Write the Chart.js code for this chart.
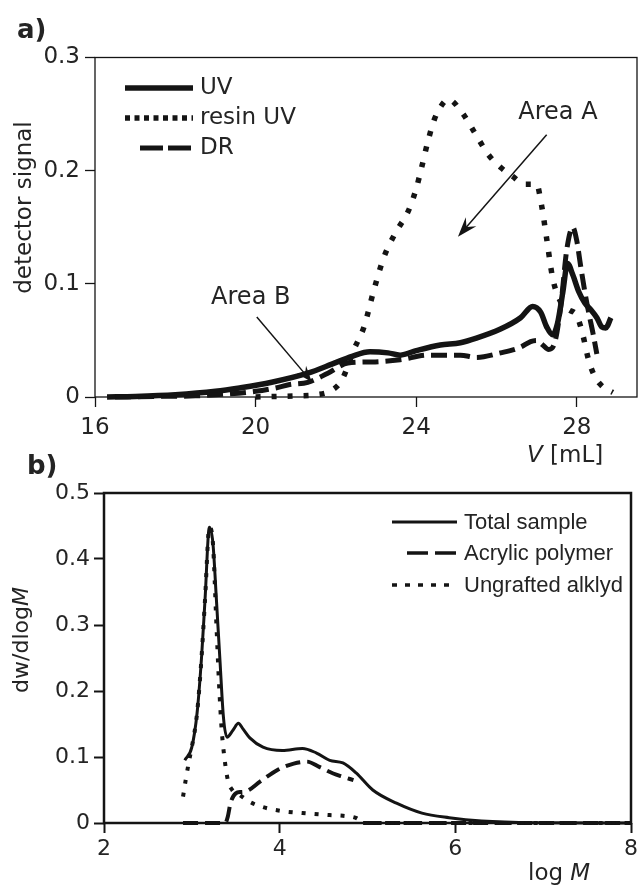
<!DOCTYPE html>
<html>
<head>
<meta charset="utf-8">
<script src="https://cdn.jsdelivr.net/npm/chart.js@4.4.0/dist/chart.umd.min.js"></script>
<style>
  html, body { margin: 0; padding: 0; background: #fff; }
  body { width: 638px; height: 887px; position: relative; overflow: hidden; }
  canvas { position: absolute; left: 0; }
  #chartA { top: 0; }
  #chartB { top: 440px; }
</style>
</head>
<body>
<canvas id="chartA" width="638" height="470"></canvas>
<canvas id="chartB" width="638" height="447"></canvas>
<script>
// ---- a) detector signal vs elution volume V [mL]
const uvV = [16.3, 17, 18, 19, 19.6, 20.4, 21.3, 21.9, 22.4, 22.85, 23.3, 23.6, 24.0, 24.6, 25.1, 25.5, 26.1, 26.6, 26.9, 27.1, 27.25, 27.4, 27.52, 27.65, 27.77, 27.9, 28.05, 28.2, 28.35, 28.5, 28.62, 28.72, 28.85];
const uvSig = [0, 0.0005, 0.002, 0.005, 0.008, 0.013, 0.021, 0.029, 0.036, 0.040, 0.039, 0.037, 0.041, 0.046, 0.048, 0.052, 0.060, 0.070, 0.080, 0.075, 0.062, 0.055, 0.065, 0.092, 0.118, 0.108, 0.093, 0.083, 0.077, 0.070, 0.062, 0.061, 0.070];

const resinV = [20.0, 21.0, 21.5, 21.9, 22.15, 22.45, 22.7, 22.95, 23.2, 23.5, 23.8, 24.0, 24.15, 24.3, 24.45, 24.6, 24.8, 25.15, 25.45, 25.8, 26.1, 26.4, 26.7, 27.0, 27.12, 27.25, 27.4, 27.6, 27.8, 28.0, 28.15, 28.3, 28.45, 28.65, 28.9];
const resinSig = [0, 0.001, 0.002, 0.006, 0.015, 0.042, 0.062, 0.095, 0.124, 0.146, 0.164, 0.184, 0.205, 0.227, 0.245, 0.256, 0.263, 0.251, 0.234, 0.214, 0.203, 0.195, 0.188, 0.188, 0.170, 0.140, 0.105, 0.084, 0.077, 0.072, 0.055, 0.032, 0.018, 0.009, 0.004];

const drV = [16.5, 17.5, 18.5, 19.0, 20.0, 20.5, 20.85, 21.3, 21.8, 22.3, 22.9, 23.6, 24.3, 25.1, 25.5, 26.1, 26.6, 26.85, 27.0, 27.15, 27.3, 27.45, 27.6, 27.75, 27.9, 28.0, 28.1, 28.2, 28.3, 28.4, 28.5];
const drSig = [0, 0.0005, 0.001, 0.002, 0.005, 0.008, 0.011, 0.013, 0.021, 0.030, 0.031, 0.033, 0.037, 0.037, 0.035, 0.039, 0.044, 0.049, 0.050, 0.046, 0.042, 0.048, 0.080, 0.130, 0.150, 0.138, 0.115, 0.093, 0.074, 0.057, 0.038];

const xTicksA = [16, 20, 24, 28];
const yTicksA = [0, 0.1, 0.2, 0.3];

// ---- b) dw/dlogM vs log M
const totalLogM = [2.92, 3.0, 3.06, 3.11, 3.15, 3.2, 3.24, 3.28, 3.32, 3.36, 3.4, 3.47, 3.53, 3.58, 3.66, 3.81, 4.03, 4.26, 4.42, 4.57, 4.72, 4.87, 5.06, 5.33, 5.62, 5.93, 6.3, 6.9, 8.0];
const totalW = [0.095, 0.115, 0.167, 0.25, 0.338, 0.448, 0.424, 0.338, 0.247, 0.16, 0.13, 0.141, 0.151, 0.143, 0.129, 0.115, 0.11, 0.113, 0.106, 0.095, 0.091, 0.076, 0.05, 0.03, 0.015, 0.008, 0.003, 0.0005, 0];

const acrylLogM = [2.9, 3.38, 3.41, 3.44, 3.5, 3.56, 3.62, 3.78, 3.97, 4.16, 4.31, 4.45, 4.61, 4.72, 4.84, 4.9, 4.95, 8.0];
const acrylW = [0, 0, 0.01, 0.03, 0.045, 0.047, 0.048, 0.063, 0.08, 0.09, 0.093, 0.085, 0.075, 0.07, 0.065, null, 0, 0];

const alkydLogM = [2.9, 2.93, 2.97, 3.0, 3.06, 3.11, 3.15, 3.2, 3.24, 3.28, 3.31, 3.34, 3.37, 3.41, 3.46, 3.55, 3.66, 3.81, 4.03, 4.26, 4.57, 4.72, 4.88, 4.95, 8.0];
const alkydW = [0.04, 0.065, 0.095, 0.115, 0.167, 0.25, 0.338, 0.448, 0.424, 0.30, 0.21, 0.141, 0.10, 0.065, 0.05, 0.042, 0.032, 0.024, 0.018, 0.015, 0.012, 0.011, 0.007, 0, 0];

const xTicksB = [2, 4, 6, 8];
const yTicksB = [0, 0.1, 0.2, 0.3, 0.4, 0.5];

const INK = "#141414";
const TXT = "#242424";
const SANS = "'DejaVu Sans', sans-serif";
const ARIAL = "'Liberation Sans', Arial, sans-serif";

const pts = (xs, ys) => xs.map((x, i) => ({ x, y: ys[i] }));
const fmt = (v) => (v === 0 ? "0" : String(v));

function line(data, width, dash) {
  return {
    data,
    borderColor: INK,
    borderWidth: width,
    borderDash: dash,
    borderCapStyle: "butt",
    pointRadius: 0,
    fill: false,
    clip: 8,
    cubicInterpolationMode: "monotone",
  };
}

function axis(opts) {
  const horiz = opts.pos === "x";
  return {
    type: "linear",
    min: opts.min,
    max: opts.max,
    afterBuildTicks: (s) => {
      s.ticks = opts.ticks.map((v) => ({ value: v }));
    },
    afterFit: (s) => {
      if (horiz) s.height = opts.size;
      else s.width = opts.size;
      s.paddingLeft = s.paddingRight = s.paddingTop = s.paddingBottom = 0;
    },
    grid: {
      display: true,
      drawOnChartArea: false,
      drawTicks: true,
      tickLength: 10,
      tickColor: INK,
      tickWidth: opts.tickWidth,
    },
    border: { display: false },
    ticks: {
      color: TXT,
      font: { family: SANS, size: opts.font },
      padding: opts.pad,
      maxRotation: 0,
      autoSkip: false,
      callback: fmt,
    },
  };
}

function runs(ctx, parts, x, y, align) {
  let w = 0;
  parts.forEach(([t, f]) => {
    ctx.font = f;
    w += ctx.measureText(t).width;
  });
  let cx = align === "center" ? x - w / 2 : align === "right" ? x - w : x;
  ctx.textAlign = "left";
  parts.forEach(([t, f]) => {
    ctx.font = f;
    ctx.fillText(t, cx, y);
    cx += ctx.measureText(t).width;
  });
}

function arrow(ctx, x1, y1, x2, y2, len, half) {
  const ang = Math.atan2(y2 - y1, x2 - x1);
  ctx.beginPath();
  ctx.moveTo(x1, y1);
  ctx.lineTo(x2 - Math.cos(ang) * len * 0.6, y2 - Math.sin(ang) * len * 0.6);
  ctx.stroke();
  const bx = x2 - Math.cos(ang) * len, by = y2 - Math.sin(ang) * len;
  const nx = -Math.sin(ang) * half, ny = Math.cos(ang) * half;
  const mx = x2 - Math.cos(ang) * len * 0.65, my = y2 - Math.sin(ang) * len * 0.65;
  ctx.beginPath();
  ctx.moveTo(x2, y2);
  ctx.lineTo(bx + nx, by + ny);
  ctx.lineTo(mx, my);
  ctx.lineTo(bx - nx, by - ny);
  ctx.closePath();
  ctx.fill();
}

function legendRow(ctx, x1, x2, y, width, dash) {
  ctx.save();
  ctx.lineWidth = width;
  ctx.lineCap = "butt";
  ctx.setLineDash(dash);
  ctx.beginPath();
  ctx.moveTo(x1, y);
  ctx.lineTo(x2, y);
  ctx.stroke();
  ctx.restore();
}

// frame under the curves, texts and legend on top
function decor(frame, draw) {
  return {
    id: "decor",
    beforeDatasetsDraw(chart) {
      const { ctx, chartArea: a } = chart;
      ctx.save();
      ctx.strokeStyle = INK;
      ctx.lineWidth = frame;
      ctx.strokeRect(a.left, a.top, a.right - a.left, a.bottom - a.top);
      ctx.restore();
    },
    afterDatasetsDraw(chart) {
      const { ctx, chartArea: a, scales } = chart;
      ctx.save();
      ctx.fillStyle = TXT;
      ctx.strokeStyle = INK;
      draw(ctx, a, scales.x, scales.y);
      ctx.restore();
    },
  };
}

function drawA(ctx, a, x, y) {
  ctx.textBaseline = "alphabetic";
  runs(ctx, [["a)", "bold 26px " + SANS]], 17, 38, "left");

  ctx.save();
  ctx.translate(a.left - 70, a.top + 150);
  ctx.rotate(-Math.PI / 2);
  ctx.textBaseline = "middle";
  runs(ctx, [["detector signal", "23px " + SANS]], 0, 0, "center");
  ctx.restore();

  runs(ctx, [["V", "italic 23px " + SANS], [" [mL]", "23px " + SANS]], a.right - 110, a.bottom + 65, "left");

  // legend
  const lx1 = a.left + 30, lx2 = a.left + 98;
  legendRow(ctx, lx1, lx2, a.top + 30.5, 5.5, []);
  legendRow(ctx, lx1, lx2, a.top + 60.5, 5.5, [5, 4.5]);
  legendRow(ctx, a.left + 45, lx2, a.top + 90.5, 5, [23, 5]);
  ctx.textBaseline = "middle";
  runs(ctx, [["UV", "23px " + SANS]], a.left + 105, a.top + 31, "left");
  runs(ctx, [["resin UV", "23px " + SANS]], a.left + 105, a.top + 61, "left");
  runs(ctx, [["DR", "23px " + SANS]], a.left + 105, a.top + 91, "left");

  // annotations, anchored in data coordinates
  runs(ctx, [["Area A", "24px " + SANS]], x.getPixelForValue(27.53), y.getPixelForValue(0.251), "center");
  runs(ctx, [["Area B", "24px " + SANS]], x.getPixelForValue(19.88), y.getPixelForValue(0.0875), "center");
  ctx.fillStyle = INK;
  ctx.lineWidth = 1.5;
  arrow(ctx, x.getPixelForValue(27.25), y.getPixelForValue(0.2317), x.getPixelForValue(25.04), y.getPixelForValue(0.1415), 20, 7);
  arrow(ctx, x.getPixelForValue(20.03), y.getPixelForValue(0.0707), x.getPixelForValue(21.4), y.getPixelForValue(0.0133), 16, 6);
}

function drawB(ctx, a, x, y) {
  ctx.textBaseline = "alphabetic";
  runs(ctx, [["b)", "bold 26px " + SANS]], 27, 34, "left");

  ctx.save();
  ctx.translate(a.left - 82, a.top + 147);
  ctx.rotate(-Math.PI / 2);
  ctx.textBaseline = "middle";
  runs(ctx, [["dw/dlog", "22px " + SANS], ["M", "italic 22px " + SANS]], 0, 0, "center");
  ctx.restore();

  ctx.textBaseline = "middle";
  runs(ctx, [["log ", "23px " + SANS], ["M", "italic 23px " + SANS]], a.right - 103, a.bottom + 51, "left");

  // legend
  const lx1 = a.right - 239, lx2 = a.right - 174;
  legendRow(ctx, lx1, lx2, a.top + 29, 3, []);
  legendRow(ctx, a.right - 224, lx2, a.top + 60, 3.5, [21, 7]);
  legendRow(ctx, lx1, lx2, a.top + 92, 3.5, [5, 8]);
  const tx = a.right - 167;
  runs(ctx, [["Total sample", "22px " + ARIAL]], tx, a.top + 30, "left");
  runs(ctx, [["Acrylic polymer", "22px " + ARIAL]], tx, a.top + 61, "left");
  runs(ctx, [["Ungrafted alklyd", "22px " + ARIAL]], tx, a.top + 93, "left");
}

const common = {
  responsive: false,
  animation: false,
  events: [],
  plugins: { legend: { display: false }, tooltip: { enabled: false } },
};

new Chart(document.getElementById("chartA"), {
  type: "line",
  data: {
    datasets: [
      line(pts(resinV, resinSig), 5.5, [5, 11]),
      line(pts(drV, drSig), 5, [16, 7]),
      line(pts(uvV, uvSig), 5.5, []),
    ],
  },
  options: {
    ...common,
    layout: { padding: { top: 57.5, right: 1, left: 0, bottom: 0 } },
    scales: {
      x: axis({ pos: "x", min: 16, max: 29.5, ticks: xTicksA, size: 73, font: 23, pad: 7, tickWidth: 1.3 }),
      y: axis({ pos: "y", min: 0, max: 0.3, ticks: yTicksA, size: 95, font: 23, pad: 5, tickWidth: 1.3 }),
    },
  },
  plugins: [decor(1.3, drawA)],
});

new Chart(document.getElementById("chartB"), {
  type: "line",
  data: {
    datasets: [
      line(pts(alkydLogM, alkydW), 4, [4, 9]),
      line(pts(acrylLogM, acrylW), 4, [15, 7]),
      line(pts(totalLogM, totalW), 3, []),
    ],
  },
  options: {
    ...common,
    layout: { padding: { top: 53, right: 7, left: 0, bottom: 0 } },
    scales: {
      x: axis({ pos: "x", min: 2, max: 8, ticks: xTicksB, size: 64, font: 22, pad: 3, tickWidth: 2 }),
      y: axis({ pos: "y", min: 0, max: 0.5, ticks: yTicksB, size: 104, font: 22, pad: 4, tickWidth: 2 }),
    },
  },
  plugins: [decor(2.5, drawB)],
});
</script>
</body>
</html>
